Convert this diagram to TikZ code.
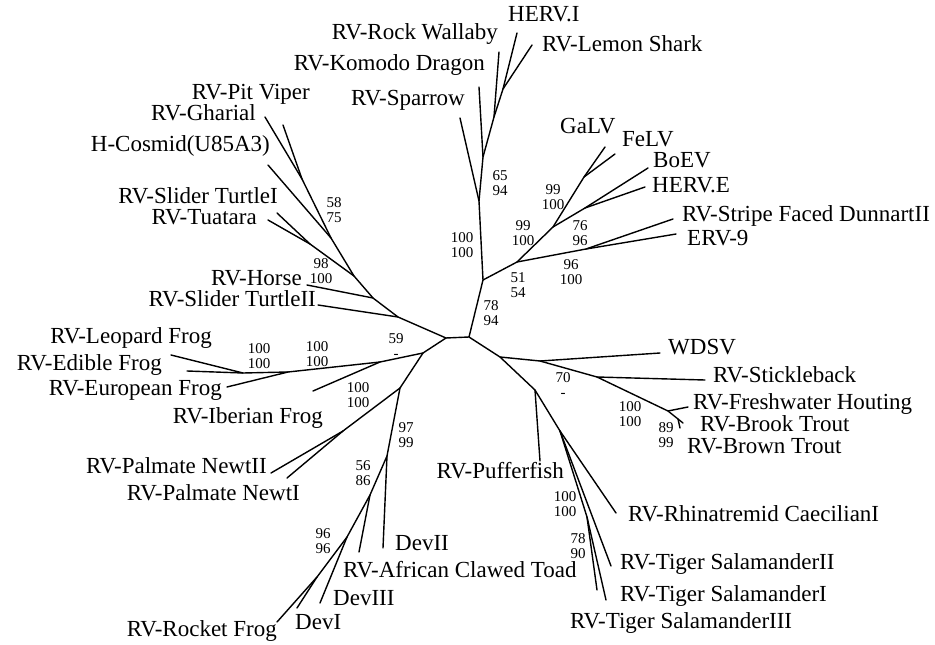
\documentclass[tikz,border=0pt]{standalone}
\usepackage{fontspec}
\setmainfont{Liberation Serif}
\begin{document}
\begin{tikzpicture}[x=1pt,y=-1pt,
  br/.style={line width=1.4pt, line cap=round, line join=round},
  lab/.style={font=\fontsize{23}{27}\selectfont, inner sep=0pt, text height=0.7em, text depth=0.2em},
  bs/.style={font=\fontsize{15}{14.5}\selectfont, align=center, inner sep=0pt}]
\useasboundingbox (0,0) rectangle (935,645);
% internal nodes
\coordinate (C1) at (446,338); \coordinate (C2) at (469,337);
\coordinate (U) at (483,280); \coordinate (S) at (479,201);
\coordinate (K) at (483,157); \coordinate (W) at (494,117);
\coordinate (H) at (503,89);
\coordinate (R1) at (517,262); \coordinate (R2) at (553,227);
\coordinate (GF) at (584,177); \coordinate (BH) at (585,208);
\coordinate (R3) at (586,249);
\coordinate (L1) at (398,317); \coordinate (L2) at (373,298);
\coordinate (L3) at (354,276); \coordinate (T1) at (310,244);
\coordinate (L4) at (331,238); \coordinate (L5) at (302,179);
\coordinate (F0) at (423,353); \coordinate (F1) at (380,362);
\coordinate (F2) at (288,372); \coordinate (F3) at (243,373);
\coordinate (N0) at (400,388); \coordinate (NN) at (343,431);
\coordinate (D1) at (387,456); \coordinate (D2) at (370,495);
\coordinate (D3) at (347,537); \coordinate (D4) at (317,577);
\coordinate (B1) at (500,357); \coordinate (B1b) at (540,361);
\coordinate (SB) at (597,377); \coordinate (FH) at (668,411);
\coordinate (TR) at (678,419);
\coordinate (B2) at (535,390); \coordinate (B3) at (560,431);
\coordinate (B4) at (587,517);
% tips
\coordinate (tHERVI) at (517,33); \coordinate (tLemon) at (532,45);
\coordinate (tWallaby) at (499,52); \coordinate (tKomodo) at (479,87);
\coordinate (tSparrow) at (460,118);
\coordinate (tGaLV) at (605,147); \coordinate (tFeLV) at (615,154);
\coordinate (tBoEV) at (648,168); \coordinate (tHERVE) at (645,187);
\coordinate (tDunnart) at (673,219); \coordinate (tERV) at (676,234);
\coordinate (tPit) at (283,125); \coordinate (tGharial) at (265,117);
\coordinate (tCosmid) at (268,165); \coordinate (tSlider1) at (277,213);
\coordinate (tTuatara) at (268,220); \coordinate (tHorse) at (307,285);
\coordinate (tSlider2) at (318,305);
\coordinate (tLeopard) at (171,355); \coordinate (tEdible) at (187,371);
\coordinate (tEuropean) at (227,387); \coordinate (tIberian) at (313,391);
\coordinate (tNewt2) at (271,473); \coordinate (tNewt1) at (287,478);
\coordinate (tDevII) at (383,548); \coordinate (tAfrican) at (359,552);
\coordinate (tDevIII) at (320,603); \coordinate (tDevI) at (297,608);
\coordinate (tRocket) at (277,622);
\coordinate (tWDSV) at (660,353); \coordinate (tStickle) at (705,380);
\coordinate (tFH) at (688,407); \coordinate (tBrook) at (683,423);
\coordinate (tBrown) at (680,428);
\coordinate (tPuffer) at (540,461); \coordinate (tRhina) at (616,513);
\coordinate (tTS2) at (611,566); \coordinate (tTS1) at (606,600);
\coordinate (tTS3) at (597,590);
% branches
\draw[br] (C1) -- (C2) -- (U) -- (S) -- (K) -- (W) -- (H) -- (tHERVI);
\draw[br] (H) -- (tLemon); \draw[br] (W) -- (tWallaby);
\draw[br] (K) -- (tKomodo); \draw[br] (S) -- (tSparrow);
\draw[br] (U) -- (R1) -- (R2) -- (GF) -- (tGaLV); \draw[br] (GF) -- (tFeLV);
\draw[br] (R2) -- (BH) -- (tBoEV); \draw[br] (BH) -- (tHERVE);
\draw[br] (R1) -- (R3) -- (tDunnart); \draw[br] (R3) -- (tERV);
\draw[br] (C1) -- (L1) -- (L2) -- (L3) -- (L4) -- (L5) -- (tGharial);
\draw[br] (L5) -- (tPit); \draw[br] (L4) -- (tCosmid);
\draw[br] (L3) -- (T1) -- (tSlider1); \draw[br] (T1) -- (tTuatara);
\draw[br] (L2) -- (tHorse); \draw[br] (L1) -- (tSlider2);
\draw[br] (C1) -- (F0) -- (F1) -- (F2) -- (F3) -- (tLeopard);
\draw[br] (F3) -- (tEdible); \draw[br] (F2) -- (tEuropean); \draw[br] (F1) -- (tIberian);
\draw[br] (F0) -- (N0) -- (NN) -- (tNewt2); \draw[br] (NN) -- (tNewt1);
\draw[br] (N0) -- (D1) -- (tDevII); \draw[br] (D1) -- (D2) -- (tAfrican);
\draw[br] (D2) -- (D3) -- (tDevIII); \draw[br] (D3) -- (D4) -- (tDevI); \draw[br] (D4) -- (tRocket);
\draw[br] (C2) -- (B1) -- (B1b) -- (tWDSV);
\draw[br] (B1b) -- (SB) -- (tStickle); \draw[br] (SB) -- (FH) -- (tFH);
\draw[br] (FH) -- (TR) -- (tBrook); \draw[br] (TR) -- (tBrown);
\draw[br] (B1) -- (B2) -- (tPuffer); \draw[br] (B2) -- (B3) -- (tRhina);
\draw[br] (B3) -- (tTS2); \draw[br] (B3) -- (B4) -- (tTS1); \draw[br] (B4) -- (tTS3);
% labels
\node[lab, anchor=west] (nHERVI) at (508,19) {HERV.I};
\node[lab, anchor=west] (nLemon) at (542,49) {RV-Lemon Shark};
\node[lab, anchor=east] (nWallaby) at (498,37) {RV-Rock Wallaby};
\node[lab, anchor=east] (nKomodo) at (485,68) {RV-Komodo Dragon};
\node[lab, anchor=east] (nSparrow) at (465,103) {RV-Sparrow};
\node[lab, anchor=west] (nGaLV) at (560,131) {GaLV};
\node[lab, anchor=west] (nFeLV) at (622,144) {FeLV};
\node[lab, anchor=west] (nBoEV) at (653,165) {BoEV};
\node[lab, anchor=west] (nHERVE) at (652,190) {HERV.E};
\node[lab, anchor=west] (nDunnart) at (682,219) {RV-Stripe Faced DunnartII};
\node[lab, anchor=west] (nERV) at (687,243) {ERV-9};
\node[lab, anchor=east] (nPit) at (310,97) {RV-Pit Viper};
\node[lab, anchor=east] (nGharial) at (256,118) {RV-Gharial};
\node[lab, anchor=east] (nCosmid) at (270,149) {H-Cosmid(U85A3)};
\node[lab, anchor=east] (nSlider1) at (278,201) {RV-Slider TurtleI};
\node[lab, anchor=east] (nTuatara) at (257,222) {RV-Tuatara};
\node[lab, anchor=east] (nHorse) at (302,283) {RV-Horse};
\node[lab, anchor=east] (nSlider2) at (316,304) {RV-Slider TurtleII};
\node[lab, anchor=east] (nLeopard) at (212,341) {RV-Leopard Frog};
\node[lab, anchor=east] (nEdible) at (162,368) {RV-Edible Frog};
\node[lab, anchor=east] (nEuropean) at (222,393) {RV-European Frog};
\node[lab, anchor=east] (nIberian) at (323,421) {RV-Iberian Frog};
\node[lab, anchor=east] (nNewt2) at (267,471) {RV-Palmate NewtII};
\node[lab, anchor=east] (nNewt1) at (300,498) {RV-Palmate NewtI};
\node[lab, anchor=west] (nDevII) at (395,548) {DevII};
\node[lab, anchor=west] (nAfrican) at (343,575) {RV-African Clawed Toad};
\node[lab, anchor=west] (nDevIII) at (333,603) {DevIII};
\node[lab, anchor=west] (nDevI) at (295,627) {DevI};
\node[lab, anchor=east] (nRocket) at (277,634) {RV-Rocket Frog};
\node[lab, anchor=west] (nWDSV) at (668,352) {WDSV};
\node[lab, anchor=west] (nStickle) at (713,380) {RV-Stickleback};
\node[lab, anchor=west] (nFH) at (693,407) {RV-Freshwater Houting};
\node[lab, anchor=west] (nBrook) at (700,429) {RV-Brook Trout};
\node[lab, anchor=west] (nBrown) at (687,451) {RV-Brown Trout};
\node[lab, anchor=east] (nPuffer) at (564,476) {RV-Pufferfish};
\node[lab, anchor=west] (nRhina) at (628,519) {RV-Rhinatremid CaecilianI};
\node[lab, anchor=west] (nTS2) at (620,567) {RV-Tiger SalamanderII};
\node[lab, anchor=west] (nTS1) at (620,599) {RV-Tiger SalamanderI};
\node[lab, anchor=west] (nTS3) at (570,626) {RV-Tiger SalamanderIII};
% bootstrap values
\node[bs] (b1) at (500,183) {65\\94};
\node[bs] (b2) at (462,245) {100\\100};
\node[bs] (b3) at (491,313) {78\\94};
\node[bs] (b4) at (518,285) {51\\54};
\node[bs] (b5) at (523,233) {99\\100};
\node[bs] (b6) at (553,197) {99\\100};
\node[bs] (b7) at (580,233) {76\\96};
\node[bs] (b8) at (571,272) {96\\100};
\node[bs] (b9) at (334,210) {58\\75};
\node[bs] (b10) at (321,271) {98\\100};
\node[bs] (b11) at (259,356) {100\\100};
\node[bs] (b12) at (317,354) {100\\100};
\node[bs] (b13) at (396,346) {59\\-};
\node[bs] (b14) at (358,395) {100\\100};
\node[bs] (b15) at (406,435) {97\\99};
\node[bs] (b16) at (363,473) {56\\86};
\node[bs] (b17) at (323,541) {96\\96};
\node[bs] (b18) at (563,385) {70\\-};
\node[bs] (b19) at (630,414) {100\\100};
\node[bs] (b20) at (666,435) {89\\99};
\node[bs] (b21) at (565,504) {100\\100};
\node[bs] (b22) at (578,546) {78\\90};
\end{tikzpicture}
\end{document}
